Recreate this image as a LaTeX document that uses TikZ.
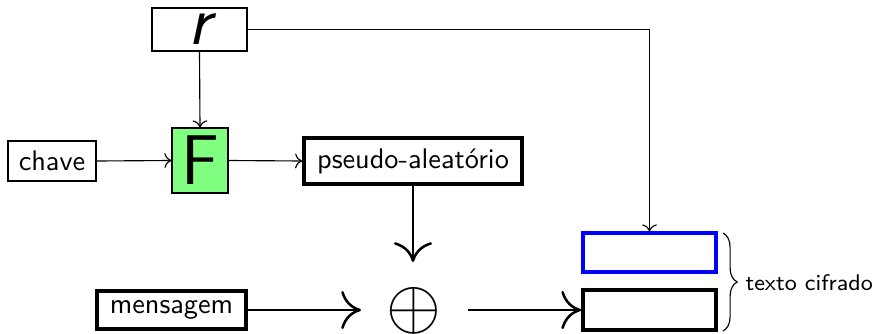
\documentclass[tikz,border=0pt]{standalone}
\usetikzlibrary{arrows.meta,decorations.pathreplacing}
\begin{document}
\begin{tikzpicture}[x=0.353pt,y=-0.353pt,font=\sffamily,
  plainbox/.style={draw,inner sep=0pt,line width=0.4pt},
  boldbox/.style={draw,inner sep=0pt,line width=1.3pt},
  small/.style={->,line width=0.4pt},
  bigtip/.style={-{To[length=7pt,width=13.5pt,line width=0.9pt]},line width=0.4pt}]
\useasboundingbox (0,0) rectangle (876,334);

% boxes
\node[plainbox,minimum width=95*0.353pt,minimum height=43*0.353pt] (r) at (199.5,29.5) {\Huge\itshape r};
\node[plainbox,minimum width=88*0.353pt,minimum height=40*0.353pt] (chave) at (52,161) {chave};
\node[plainbox,fill=green!50,minimum width=56*0.353pt,minimum height=65*0.353pt] (F) at (200,160.5) {\Huge F};
\node[boldbox,minimum width=218*0.353pt,minimum height=46*0.353pt] (pr) at (413,161) {pseudo-aleatório};
\node[inner sep=0pt] (xor) at (414,311) {\Huge$\oplus$};
\node[boldbox,minimum width=149*0.353pt,minimum height=38*0.353pt] (msg) at (171.5,310) {mensagem};
\node[draw=blue,line width=1.1pt,minimum width=133*0.353pt,minimum height=39*0.353pt] (c1) at (649.5,252.5) {};
\node[boldbox,minimum width=133*0.353pt,minimum height=40*0.353pt] (c2) at (649.5,310) {};

% free ends near the xor
\coordinate (xtop) at (413,262);
\coordinate (xleft) at (361,310);
\coordinate (xright) at (468,310);

% connectors
\draw[small] (r.south) -- (F.north);
\draw[small] (r.east) -| (c1.north);
\draw[small] (chave.east) -- (F.west);
\draw[small] (F.east) -- (pr.west);
\draw[bigtip] (pr.south) -- (xtop);
\draw[bigtip] (msg.east) -- (xleft);
\draw[bigtip] (xright) -- (c2.west);

% brace
\coordinate (bt) at (723,233);
\coordinate (bb) at (723,331);
\draw[decorate,decoration={brace,amplitude=5pt}] (bt) -- (bb);
\node[anchor=west,font=\sffamily\footnotesize,inner sep=0pt] (lbl) at (745,283) {texto cifrado};
\end{tikzpicture}
\end{document}
